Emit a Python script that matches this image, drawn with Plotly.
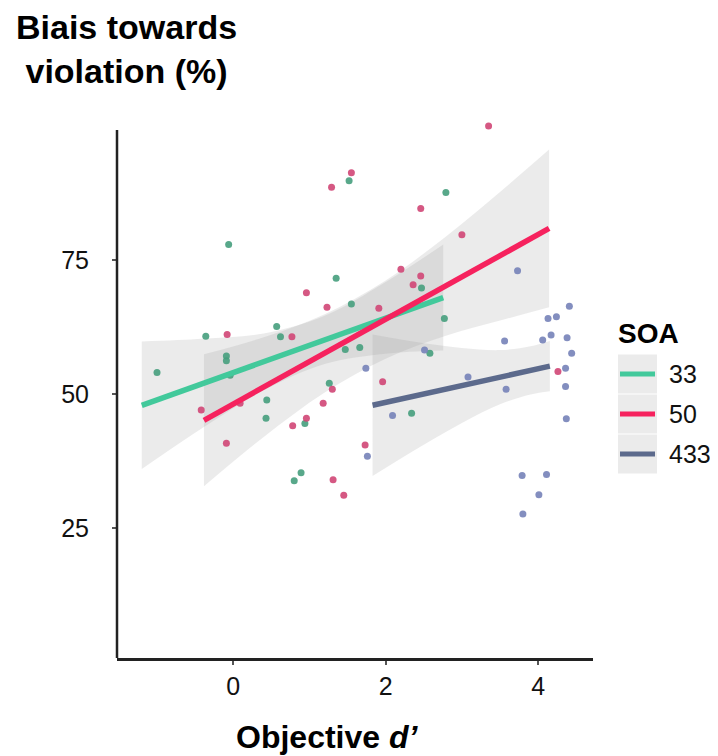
import plotly.graph_objects as go

# ---- data ----
soa_labels = ["33", "50", "433"]

green_x = [-0.06, 1.52, 2.79, 1.35, 2.47, 1.55, 0.57, 0.62, 1.47, 1.66, -0.36, -1.0, -0.09, -0.09,
           0.44, 0.43, 0.94, 0.89, 0.80, 2.34, 2.77, 2.58, 1.26, -0.04]
green_y = [77.9, 89.8, 87.6, 71.6, 69.8, 66.8, 62.6, 60.7, 58.3, 58.7, 60.8, 54.0, 57.1, 56.2,
           48.9, 45.5, 44.5, 35.3, 33.8, 46.4, 64.1, 57.6, 52.0, 53.5]

pink_x = [0.96, 3.35, 1.55, 1.29, 2.46, 3.0, 2.2, 2.46, 2.36, 1.23, 1.91, 0.77, -0.08, -0.42,
          -0.09, 0.09, 0.78, 0.96, 1.18, 1.73, 1.31, 1.45, 1.96, 1.30, 4.26]
pink_y = [68.9, 100.0, 91.3, 88.6, 84.6, 79.7, 73.3, 72.0, 70.4, 66.2, 66.0, 60.7, 61.1, 47.0,
          40.8, 48.3, 44.1, 45.5, 48.3, 40.5, 34.0, 31.1, 52.3, 50.9, 54.2]

blue_x = [1.74, 2.09, 1.76, 2.51, 3.08, 3.73, 4.13, 4.24, 3.56, 4.06, 4.17, 4.41, 4.38, 4.44,
          4.36, 3.58, 4.36, 4.37, 3.79, 4.11, 4.01, 3.80]
blue_y = [54.8, 46.0, 38.4, 58.2, 53.2, 73.0, 64.1, 64.4, 59.9, 60.1, 61.0, 66.4, 60.5, 57.6,
          54.8, 50.9, 51.4, 45.4, 34.8, 35.0, 31.2, 27.6]

# regression lines (end points)
green_fit_x = [-1.2, 2.755]
green_fit_y = [47.9, 68.0]
pink_fit_x = [-0.384, 4.144]
pink_fit_y = [45.1, 80.9]
blue_fit_x = [1.828, 4.154]
blue_fit_y = [47.9, 55.2]

# confidence bands
green_band_x = [-1.2, -0.4, 0.4, 1.2, 2.0, 2.755]
green_band_lo = [36.0, 43.7, 50.7, 55.6, 57.5, 58.1]
green_band_hi = [59.8, 60.3, 61.3, 64.6, 70.9, 77.9]

pink_band_x = [-0.384, 0.4, 1.2, 2.0, 2.8, 3.5, 4.144]
pink_band_lo = [32.8, 42.0, 50.3, 56.6, 60.9, 63.7, 66.2]
pink_band_hi = [57.4, 60.6, 64.9, 71.2, 79.5, 87.7, 95.6]

blue_band_x = [1.828, 2.4, 3.0, 3.5, 3.9, 4.154]
blue_band_lo = [34.7, 39.7, 44.6, 48.1, 49.9, 50.5]
blue_band_hi = [61.1, 59.7, 58.6, 58.2, 58.9, 59.9]

x_ticks = [0, 2, 4]
y_ticks = [25, 50, 75]
y_axis_span = [0.75, 99.25]   # visible extent of the y axis line

# ---- styles ----
line_cols = ["rgb(66,201,155)", "rgb(246,34,94)", "rgb(92,106,140)"]
pt_cols = ["rgba(70,158,125,0.9)", "rgba(208,70,118,0.9)", "rgba(118,130,184,0.9)"]
band_fill = "rgba(150,150,150,0.19)"
FONT = "Liberation Sans, Arial, sans-serif"

fig = go.Figure()

bands = [(green_band_x, green_band_lo, green_band_hi),
         (pink_band_x, pink_band_lo, pink_band_hi),
         (blue_band_x, blue_band_lo, blue_band_hi)]
for bx, lo, hi in bands:
    fig.add_trace(go.Scatter(x=bx, y=lo, mode="lines", line=dict(width=0, shape="spline"),
                             showlegend=False, hoverinfo="skip"))
    fig.add_trace(go.Scatter(x=bx, y=hi, mode="lines", line=dict(width=0, shape="spline"),
                             fill="tonexty", fillcolor=band_fill, showlegend=False, hoverinfo="skip"))

pts = [(green_x, green_y), (pink_x, pink_y), (blue_x, blue_y)]
for (px, py), c, name in zip(pts, pt_cols, soa_labels):
    fig.add_trace(go.Scatter(x=px, y=py, mode="markers", marker=dict(size=7, color=c),
                             showlegend=False, cliponaxis=False, name=name))

fits = [(green_fit_x, green_fit_y), (pink_fit_x, pink_fit_y), (blue_fit_x, blue_fit_y)]
for (fx, fy), c, name in zip(fits, line_cols, soa_labels):
    fig.add_trace(go.Scatter(x=fx, y=fy, mode="lines", line=dict(width=5.5, color=c),
                             showlegend=False, name=name))

# the page body has an 8px margin; work in screenshot pixels and shift
OFF = 8
W, H = 718 - OFF, 756 - OFF
PXU = 528 / (y_axis_span[1] - y_axis_span[0])     # pixels per y unit
Y_TOP = 101.5                                      # room for the top point
L, R, B = 117 - OFF, 593 - OFF, 658 - OFF
T = B - (Y_TOP - y_axis_span[0]) * PXU
TOP_REF = 130  # axis top in screenshot px


def px2paper(px, py):
    px -= OFF
    py -= OFF
    return (px - L) / (R - L), (B - py) / (B - T)


fig.update_layout(
    width=W, height=H,
    margin=dict(l=L, r=W - R, t=T, b=H - B, pad=0),
    paper_bgcolor="white", plot_bgcolor="white",
    font=dict(family=FONT, color="black"),
    showlegend=False,
    xaxis=dict(range=[-1.525, 4.72], tickvals=x_ticks, ticktext=[str(v) for v in x_ticks],
               showgrid=False, zeroline=False, showline=True, linecolor="#222", linewidth=2.5,
               ticks="outside", ticklen=4, tickwidth=1.5, tickcolor="#555",
               tickfont=dict(size=25, color="#111"), ticklabelstandoff=0),
    yaxis=dict(range=[y_axis_span[0], Y_TOP], tickvals=y_ticks, ticktext=[str(v) for v in y_ticks],
               showgrid=False, zeroline=False, showline=False,
               ticks="outside", ticklen=4, tickwidth=1.5, tickcolor="#555",
               tickfont=dict(size=25, color="#111"), ticklabelstandoff=18),
)

# y axis line (only up to the reference's extent)
fig.add_shape(type="line", xref="paper", yref="y", x0=0, x1=0,
              y0=y_axis_span[0], y1=y_axis_span[1], line=dict(color="#222", width=2.5))

# titles
ax, ay = px2paper(126.5, 6)
fig.add_annotation(x=ax, y=ay, xref="paper", yref="paper", xanchor="center", yanchor="top",
                   text="<b>Biais towards<br>violation (%)</b>", showarrow=False, align="center",
                   font=dict(size=34, family=FONT, color="black"))
ax, ay = px2paper(327, 737)
fig.add_annotation(x=ax, y=ay, xref="paper", yref="paper", xanchor="center", yanchor="middle",
                   text="<b>Objective <i>d’</i></b>", showarrow=False,
                   font=dict(size=32, family=FONT, color="black"))

# legend (drawn manually, ggplot style)
ax, ay = px2paper(616, 333)
fig.add_annotation(x=ax, y=ay, xref="paper", yref="paper", xanchor="left", yanchor="middle",
                   text="<b>SOA</b>", showarrow=False, font=dict(size=28, family=FONT, color="black"))
key_centers = [374, 414, 454]
for lab, c, cy in zip(soa_labels, line_cols, key_centers):
    x0, y0 = px2paper(618, cy - 19.5)
    x1, y1 = px2paper(657, cy + 19.5)
    fig.add_shape(type="rect", xref="paper", yref="paper", x0=x0, x1=x1, y0=y1, y1=y0,
                  fillcolor="#ebebeb", line=dict(width=0), layer="below")
    lx0, ly = px2paper(620, cy)
    lx1, _ = px2paper(655, cy)
    fig.add_shape(type="line", xref="paper", yref="paper", x0=lx0, x1=lx1, y0=ly, y1=ly,
                  line=dict(color=c, width=5))
    tx, ty = px2paper(667, cy)
    fig.add_annotation(x=tx, y=ty, xref="paper", yref="paper", xanchor="left", yanchor="middle",
                       text=lab, showarrow=False, font=dict(size=25, family=FONT, color="#111"))

fig.write_html("out.html")
